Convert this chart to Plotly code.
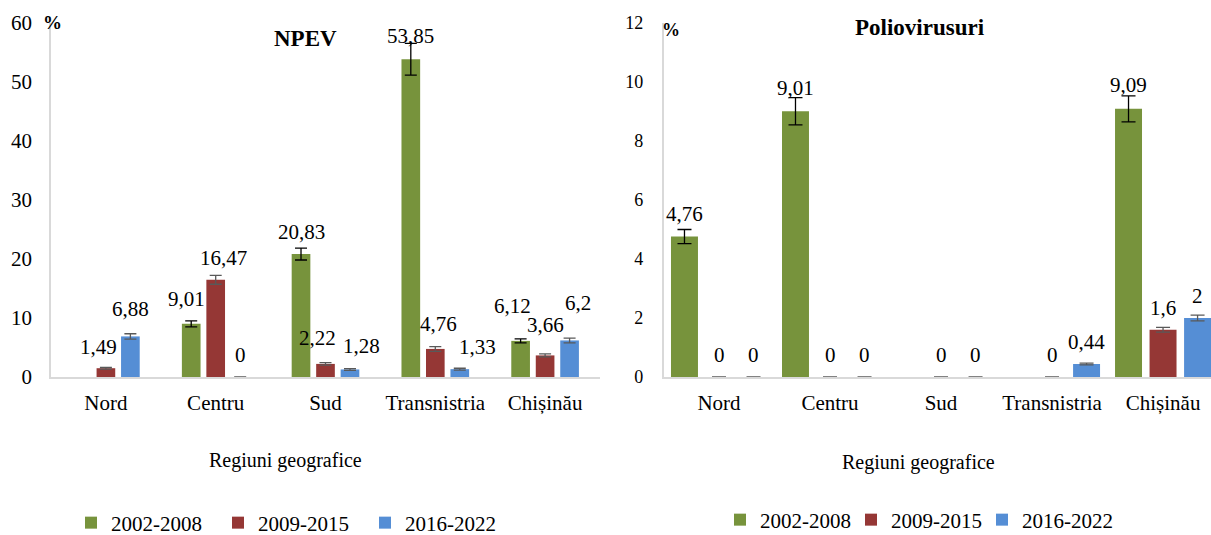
import plotly.graph_objects as go

# ---------------- data ----------------
categories = ["Nord", "Centru", "Sud", "Transnistria", "Chișinău"]
series_names = ["2002-2008", "2009-2015", "2016-2022"]

npev_2002 = [None, 9.01, 20.83, 53.85, 6.12]
npev_2009 = [1.49, 16.47, 2.22, 4.76, 3.66]
npev_2016 = [6.88, 0, 1.28, 1.33, 6.2]
npev_err_2002 = [None, 0.5, 1.0, 2.7, 0.35]
npev_err_2009 = [0.15, 0.75, 0.2, 0.4, 0.25]
npev_err_2016 = [0.45, 0, 0.15, 0.15, 0.4]

polio_2002 = [4.76, 9.01, None, None, 9.09]
polio_2009 = [0, 0, 0, 0, 1.6]
polio_2016 = [0, 0, 0, 0.44, 2]
polio_err_2002 = [0.24, 0.46, None, None, 0.44]
polio_err_2009 = [0, 0, 0, 0, 0.08]
polio_err_2016 = [0, 0, 0, 0.03, 0.1]

# ---------------- style ----------------
W, H = 1211, 535
FONT = "Liberation Serif, Times New Roman, serif"
colors = ["#77933C", "#953735", "#558ED5"]
err_colors = ["#000000", "#595959", "#595959"]

# label nudges in pixels: (panel, series, category) -> (dx, dy above bar top)
LABEL_DY = 22
LABEL_NUDGE = {
    (0, 1, 0): (-7, 21), (0, 2, 0): (0, 27),
    (0, 0, 1): (-5, 25), (0, 1, 1): (8, 22),
    (0, 1, 2): (-8, 26), (0, 2, 2): (12, 23),
    (0, 0, 3): (0, 23), (0, 1, 3): (3, 25), (0, 2, 3): (18, 22),
    (0, 0, 4): (-8, 35), (0, 1, 4): (0, 30), (0, 2, 4): (8, 37),
    (1, 0, 0): (0, 23), (1, 0, 1): (0, 23), (1, 0, 4): (0, 24),
}


def px(x):
    return x / W


def py(y):
    return (H - y) / H


fig = go.Figure()

panels = [
    dict(vals=[npev_2002, npev_2009, npev_2016],
         errs=[npev_err_2002, npev_err_2009, npev_err_2016],
         xa="x", ya="y", legend="legend", bw=0.17, slot=0.223, cap=6),
    dict(vals=[polio_2002, polio_2009, polio_2016],
         errs=[polio_err_2002, polio_err_2009, polio_err_2016],
         xa="x2", ya="y2", legend="legend2", bw=0.243, slot=0.311, cap=7),
]

annotations = []
for pi, p in enumerate(panels):
    for k in range(3):
        center = (k - 1) * p["slot"]
        vals = p["vals"][k]
        errs = p["errs"][k]
        fig.add_trace(go.Bar(
            x=categories, y=vals, name=series_names[k],
            marker=dict(color=colors[k], line=dict(width=0)),
            width=p["bw"], offset=center - p["bw"] / 2,
            error_y=dict(type="data", array=errs, visible=True,
                         color=err_colors[k], thickness=1.3, width=p["cap"]),
            xaxis=p["xa"], yaxis=p["ya"], legend=p["legend"],
            showlegend=True,
        ))
        for i, v in enumerate(vals):
            if v is None:
                continue
            dx, dy = LABEL_NUDGE.get((pi, k, i), (0, LABEL_DY))
            annotations.append(dict(
                x=i + center, y=v, xref=p["xa"], yref=p["ya"],
                text=f"{v:g}".replace(".", ","), showarrow=False,
                yanchor="middle", yshift=dy, xshift=dx,
                font=dict(family=FONT, size=21, color="#000000"),
            ))


def label(x, y, text, size):
    return dict(x=px(x), y=py(y), xref="paper", yref="paper", text=text,
                showarrow=False, xanchor="center", yanchor="middle",
                font=dict(family=FONT, size=size, color="#000"))


annotations += [
    label(305, 38.5, "<b>NPEV</b>", 23),
    label(920, 27, "<b>Poliovirusuri</b>", 23),
    label(52.5, 22, "<b>%</b>", 19),
    label(671, 30, "<b>%</b>", 18),
    label(285, 460, "Regiuni geografice", 20),
    label(918, 463, "Regiuni geografice", 20),
]

ydom = [py(377), py(23)]
axis_common = dict(showgrid=False, zeroline=False, showline=True, automargin=False,
                   linecolor="#D9D9D9", linewidth=1.5, ticks="")

fig.update_layout(
    width=W, height=H,
    margin=dict(l=0, r=0, t=0, b=0, autoexpand=False),
    paper_bgcolor="white", plot_bgcolor="white",
    barmode="overlay",
    font=dict(family=FONT, color="#000"),
    xaxis=dict(domain=[px(51), px(600)], range=[-0.5, 4.5], type="category",
               anchor="y", tickfont=dict(family=FONT, size=21),
               ticklabelstandoff=6, **axis_common),
    yaxis=dict(domain=ydom, range=[0, 60], dtick=10, anchor="x",
               tickfont=dict(family=FONT, size=21), ticklabelstandoff=13, **axis_common),
    xaxis2=dict(domain=[px(663.5), 1.0], range=[-0.5, 4.432], type="category",
                anchor="y2", tickfont=dict(family=FONT, size=21),
                ticklabelstandoff=6, **axis_common),
    yaxis2=dict(domain=ydom, range=[0, 12], dtick=2, anchor="x2",
                tickfont=dict(family=FONT, size=18), ticklabelstandoff=15, **axis_common),
    legend=dict(orientation="h", x=px(71), y=py(523), xanchor="left", yanchor="middle",
                font=dict(family=FONT, size=21), itemwidth=30, entrywidth=102,
                bgcolor="rgba(0,0,0,0)"),
    legend2=dict(orientation="h", x=px(720), y=py(520), xanchor="left", yanchor="middle",
                 font=dict(family=FONT, size=21), itemwidth=30, entrywidth=86,
                 bgcolor="rgba(0,0,0,0)"),
    annotations=annotations,
)

fig.write_html("out.html", config={"displayModeBar": False},
               post_script="document.body.style.margin='0';")
